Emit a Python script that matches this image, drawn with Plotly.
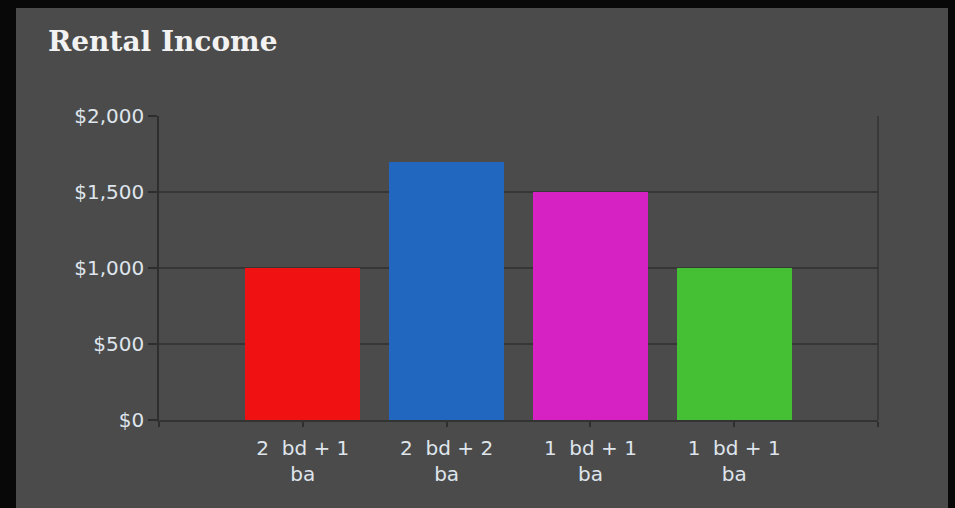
import plotly.graph_objects as go

# Monthly rent by unit type
unit_types = ["2\u00a0\u00a0bd + 1<br>ba", "2\u00a0\u00a0bd + 2<br>ba",
              "1\u00a0\u00a0bd + 1<br>ba", "1\u00a0\u00a0bd + 1<br>ba"]
rents = [1000, 1700, 1500, 1000]
bar_colors = ["#f01212", "#2166bf", "#d621c3", "#45bf33"]
y_ticks = [0, 500, 1000, 1500, 2000]
y_tick_text = ["$0", "$500", "$1,000", "$1,500", "$2,000"]

W, H = 955, 508
L, R, T, B = 159, 77, 116, 88
pw, ph = W - L - R, H - T - B

positions = list(range(len(rents)))

fig = go.Figure(
    go.Bar(
        x=positions,
        y=rents,
        width=0.8,
        marker=dict(color=bar_colors, line=dict(width=0)),
        hoverinfo="skip",
    )
)

# dark panel inside the black frame
fig.add_shape(
    type="rect", layer="below", xref="paper", yref="paper",
    x0=(16 - L) / pw, x1=(948 - L) / pw,
    y0=-(B + 5) / ph, y1=(H - 8 - B) / ph,
    fillcolor="#4b4b4b", line=dict(width=0),
)
# right border of the plot area
fig.add_shape(
    type="line", xref="paper", yref="paper",
    x0=1, x1=1, y0=0, y1=1,
    line=dict(color="#333333", width=1.5),
)

tick_font = dict(family="DejaVu Sans", size=20, color="#dfe5ec")

fig.update_layout(
    width=W, height=H,
    margin=dict(l=L, r=R, t=T, b=B),
    paper_bgcolor="#080808",
    plot_bgcolor="#4b4b4b",
    showlegend=False,
    bargap=0,
    font=tick_font,
    title=dict(
        text="<b>Rental Income</b>",
        xref="container", yref="container",
        x=48 / W, xanchor="left",
        y=1 - 41 / H, yanchor="middle",
        font=dict(family="DejaVu Serif", size=28, color="#f2f2f2"),
    ),
    xaxis=dict(
        range=[-1, 4],
        tickmode="array",
        tickvals=[-1] + positions + [4],
        ticktext=[""] + unit_types + [""],
        ticks="outside", ticklen=5, tickcolor="#2e2e2e", tickwidth=1.5,
        ticklabelstandoff=4,
        showgrid=False, zeroline=False,
        showline=True, linecolor="#333333", linewidth=2,
        tickfont=tick_font,
        fixedrange=True,
    ),
    yaxis=dict(
        range=[0, 2000],
        tickmode="array",
        tickvals=y_ticks,
        ticktext=y_tick_text,
        ticks="outside", ticklen=9, tickcolor="#2e2e2e", tickwidth=1.5,
        showgrid=True, gridcolor="#363636", gridwidth=2,
        zeroline=False,
        showline=True, linecolor="#2e2e2e", linewidth=1.5,
        tickfont=tick_font,
        fixedrange=True,
    ),
)

fig.write_html("out.html", config={"displayModeBar": False})
